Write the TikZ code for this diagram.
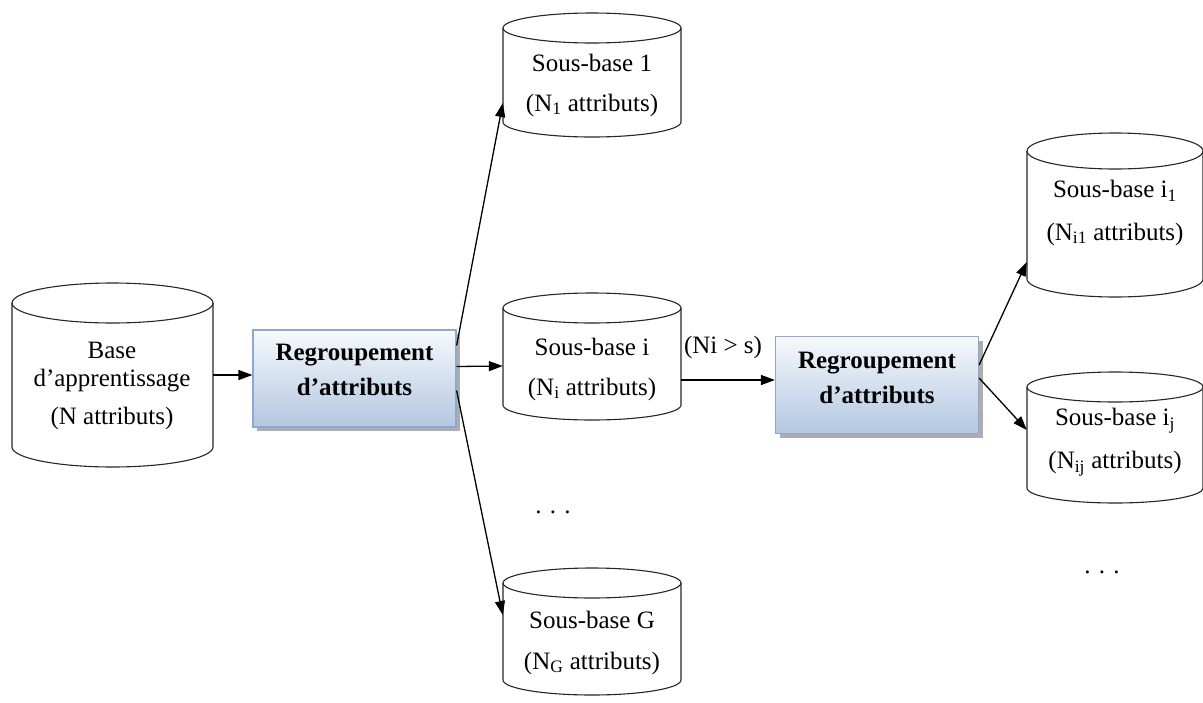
\documentclass[tikz,border=0pt]{standalone}
\usepackage{fontspec}
\setmainfont{Liberation Serif}
\usetikzlibrary{arrows.meta,calc,shadows}
\definecolor{boxtop}{HTML}{F6F9FC}
\definecolor{boxbot}{HTML}{B3C7E1}
\definecolor{boxline}{HTML}{8DA9D3}
\newcommand\mycyl[6]{%
  \draw[cylline] ({#2},{#4}) -- ({#2},{#5}) arc[start angle=180,end angle=0,x radius={(#3-#2)/2},y radius={#6}] -- ({#3},{#4});
  \draw[cylline] ({(#2+#3)/2},{#4}) ellipse[x radius={(#3-#2)/2},y radius={#6}];
  \node[inner sep=0pt,minimum width={#3-#2},minimum height={#5-#4}] (#1) at ({(#2+#3)/2},{(#4+#5)/2}) {};
}
\begin{document}
\begin{tikzpicture}[x=1pt,y=-1pt,
  cylline/.style={line width=1.1pt,draw=black!85},
  txt/.style={font=\fontsize{25}{30}\selectfont,inner sep=0pt,text=black},
  arr/.style={line width=1.3pt,-{Triangle[length=14pt,width=10pt]}},
  regbox/.style={draw=boxline,line width=1.2pt,top color=boxtop,bottom color=boxbot,
    minimum width=203pt,minimum height=97pt,inner sep=0pt,
    drop shadow={shadow xshift=4pt,shadow yshift=-4pt,fill=black!40,opacity=0.8}},
  boxtxt/.style={align=center,inner sep=0pt,font=\fontsize{25}{35}\selectfont\bfseries}]
\useasboundingbox (0,0) rectangle (1203,702);

% cylinders
\mycyl{base}{12}{213}{303}{447}{20}
\mycyl{sbone}{503}{681}{28}{122}{15}
\mycyl{sbi}{503}{681}{308}{405}{15}
\mycyl{sbg}{503}{681}{583}{680}{15}
\mycyl{sbione}{1027}{1203}{151}{279}{18}
\mycyl{sbij}{1027}{1203}{387}{488}{15}

% texts in cylinders
\node[txt] (t1) at (112,350) {Base};
\node[txt] (t2) at (112,381) {d’apprentissage};
\node[txt] (t3) at (112,418) {(N attributs)};
\node[txt] (t4) at (592,63) {Sous-base 1};
\node[txt] (t5) at (592,105) {(N\textsubscript{1} attributs)};
\node[txt] (t6) at (592,347) {Sous-base i};
\node[txt] (t7) at (592,389) {(N\textsubscript{i} attributs)};
\node[txt] (t8) at (592,620) {Sous-base G};
\node[txt] (t9) at (592,663) {(N\textsubscript{G} attributs)};
\node[txt] (t10) at (1115,191) {Sous-base i\textsubscript{1}};
\node[txt] (t11) at (1115,234) {(N\textsubscript{i1} attributs)};
\node[txt] (t12) at (1115,421) {Sous-base i\textsubscript{j}};
\node[txt] (t13) at (1115,464) {(N\textsubscript{ij} attributs)};

% boxes
\node[regbox] (boxa) at (354.5,378.5) {};
\node[boxtxt] (boxatxt) at (354.5,370) {Regroupement\\d’attributs};
\node[regbox] (boxb) at (877,385) {};
\node[boxtxt] (boxbtxt) at (877,378) {Regroupement\\d’attributs};

% label and dots
\node[txt] (lbl) at (723,347) {(Ni > s)};
\node[txt] (dotsa) at (553,512) {. . .};
\node[txt] (dotsb) at (1102,572) {. . .};

% connectors
\draw[arr] (base.east) -- (base.east -| boxa.west);
\draw[arr] ($(boxa.east)+(0,-33)$) -- ($(sbone.west)+(0,28)$);
\draw[arr] ($(boxa.east)+(0,-12)$) -- ($(sbi.west)+(0,9.5)$);
\draw[arr] ($(boxa.east)+(0,12)$) -- ($(sbg.west)+(0,-16.5)$);
\draw[arr] ($(sbi.east)+(0,23.5)$) -- ($(boxb.west)+(0,-5)$);
\draw[arr] ($(boxb.east)+(0,-20)$) -- ($(sbione.west)+(0,47)$);
\draw[arr] ($(boxb.east)+(0,-7)$) -- ($(sbij.west)+(0,-7.5)$);
\end{tikzpicture}
\end{document}
